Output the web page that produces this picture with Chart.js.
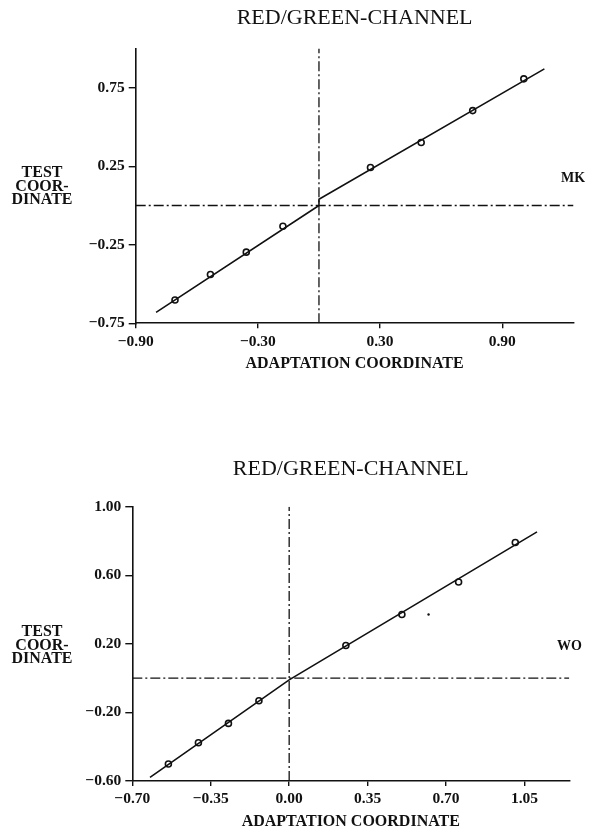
<!DOCTYPE html>
<html>
<head>
<meta charset="utf-8">
<script src="https://cdn.jsdelivr.net/npm/chart.js@4.4.1/dist/chart.umd.min.js"></script>
<style>
    body { margin: 0; background: #fff; }
    #page { position: relative; width: 598px; height: 833px; font-family: "Liberation Serif", "DejaVu Serif", serif; color: #111; }
    .box { position: absolute; left: 0; width: 598px; }
    .side { position: absolute; left: 0; width: 84px; text-align: center; font-size: 16px; font-weight: bold; line-height: 13.5px; }
    .tag { position: absolute; font-size: 14px; font-weight: bold; line-height: 14px; }
</style>
</head>
<body>
<div id="page">
    <div class="box" style="top:0;height:380px"><canvas id="chartMK"></canvas></div>
    <div class="box" style="top:440px;height:393px"><canvas id="chartWO"></canvas></div>
    <div class="side" style="top:165px">TEST<br>COOR-<br>DINATE</div>
    <div class="side" style="top:624px">TEST<br>COOR-<br>DINATE</div>
    <div class="tag" style="left:561px;top:171px">MK</div>
    <div class="tag" style="left:557px;top:639px">WO</div>
</div>
<script>
// Observer MK
const titleText = "RED/GREEN-CHANNEL";
const xTitleText = "ADAPTATION COORDINATE";

const mkAdaptX = [-0.707, -0.533, -0.357, -0.177, 0.253, 0.502, 0.755, 1.006];
const mkTestY = [-0.602, -0.439, -0.297, -0.132, 0.242, 0.401, 0.604, 0.806];
const mkFitX = [-0.80, 0.00, 0.00, 1.107];
const mkFitY = [-0.68, 0.00, 0.04, 0.87];
const mkXRange = [-0.90, 1.25];
const mkYRange = [-0.75, 1.00];
const mkXTicks = [-0.90, -0.30, 0.30, 0.90];
const mkXLabels = ["\u22120.90", "\u22120.30", "0.30", "0.90"];
const mkYTicks = [-0.75, -0.25, 0.25, 0.75];
const mkYLabels = ["\u22120.75", "\u22120.25", "0.25", "0.75"];

// Observer WO
const woAdaptX = [-0.539, -0.405, -0.271, -0.135, 0.253, 0.503, 0.756, 1.009];
const woTestY = [-0.501, -0.377, -0.264, -0.132, 0.190, 0.371, 0.561, 0.791];
const woFitX = [-0.621, 0.00, 1.106];
const woFitY = [-0.579, -0.01, 0.853];
const woSpeckX = [0.622];
const woSpeckY = [0.371];
const woXRange = [-0.70, 1.25];
const woYRange = [-0.60, 1.00];
const woXTicks = [-0.70, -0.35, 0.00, 0.35, 0.70, 1.05];
const woXLabels = ["\u22120.70", "\u22120.35", "0.00", "0.35", "0.70", "1.05"];
const woYTicks = [-0.60, -0.20, 0.20, 0.60, 1.00];
const woYLabels = ["\u22120.60", "\u22120.20", "0.20", "0.60", "1.00"];

const ink = "#111";
const serif = "'Liberation Serif', 'DejaVu Serif', serif";
const toPoints = (xs, ys) => xs.map((x, i) => ({ x: x, y: ys[i] }));

function makeChart(id, s) {
    const datasets = [
        {
            // dash-dot zero lines
            data: [{ x: s.xRange[0], y: 0 }, { x: s.xRange[1], y: 0 }],
            showLine: true,
            borderColor: ink,
            borderWidth: 1.3,
            borderDash: [10, 3, 2, 3],
            pointRadius: 0,
        },
        {
            data: [{ x: 0, y: s.yRange[0] }, { x: 0, y: s.yRange[1] }],
            showLine: true,
            borderColor: ink,
            borderWidth: 1.3,
            borderDash: [10, 3, 2, 3],
            pointRadius: 0,
        },
        {
            data: toPoints(s.fitX, s.fitY),
            showLine: true,
            borderColor: ink,
            borderWidth: 1.6,
            pointRadius: 0,
            tension: 0,
        },
        {
            data: toPoints(s.dataX, s.dataY),
            showLine: false,
            pointRadius: 3,
            pointBorderWidth: 1.6,
            pointBorderColor: ink,
            pointBackgroundColor: "#fff",
        },
    ];
    if (s.speckX) {
        datasets.push({
            data: toPoints(s.speckX, s.speckY),
            showLine: false,
            pointRadius: 1.2,
            pointBorderWidth: 0,
            pointBackgroundColor: ink,
        });
    }

    return new Chart(document.getElementById(id), {
        type: "scatter",
        data: { datasets: datasets },
        options: {
            responsive: true,
            maintainAspectRatio: false,
            animation: false,
            layout: { padding: { left: 0, right: s.padRight, top: 0, bottom: 0 } },
            plugins: {
                legend: { display: false },
                tooltip: { enabled: false },
                title: {
                    display: true,
                    text: titleText,
                    fullSize: false,
                    color: ink,
                    font: { family: serif, size: 22, weight: "normal" },
                    padding: { top: s.titleTop, bottom: s.titleBottom },
                },
            },
            scales: {
                x: {
                    type: "linear",
                    min: s.xRange[0],
                    max: s.xRange[1],
                    afterBuildTicks: (axis) => {
                        axis.ticks = s.xTicks.map((v) => ({ value: v }));
                    },
                    afterFit: (axis) => {
                        axis.height = s.xAxisHeight;
                    },
                    ticks: {
                        color: ink,
                        padding: 4,
                        maxRotation: 0,
                        autoSkip: false,
                        font: { family: serif, size: 15.5, weight: "bold" },
                        callback: (value, index) => s.xLabels[index],
                    },
                    grid: { drawOnChartArea: false, drawTicks: true, tickLength: 5, color: ink, lineWidth: 1.4 },
                    border: { display: true, color: ink, width: 1.6 },
                    title: {
                        display: true,
                        text: xTitleText,
                        color: ink,
                        font: { family: serif, size: 16, weight: "bold" },
                        padding: { top: 0, bottom: s.xTitleBottom },
                    },
                },
                y: {
                    type: "linear",
                    min: s.yRange[0],
                    max: s.yRange[1],
                    afterBuildTicks: (axis) => {
                        axis.ticks = s.yTicks.map((v) => ({ value: v }));
                    },
                    afterFit: (axis) => {
                        axis.width = s.yAxisWidth;
                    },
                    ticks: {
                        color: ink,
                        padding: 4,
                        autoSkip: false,
                        font: { family: serif, size: 15.5, weight: "bold" },
                        callback: (value, index) => s.yLabels[index],
                    },
                    grid: { drawOnChartArea: false, drawTicks: true, tickLength: 7, color: ink, lineWidth: 1.4 },
                    border: { display: true, color: ink, width: 1.6 },
                },
            },
        },
    });
}

document.addEventListener("DOMContentLoaded", function () {
    makeChart("chartMK", {
        dataX: mkAdaptX, dataY: mkTestY, fitX: mkFitX, fitY: mkFitY,
        xRange: mkXRange, yRange: mkYRange,
        xTicks: mkXTicks, xLabels: mkXLabels, yTicks: mkYTicks, yLabels: mkYLabels,
        padRight: 24.5, yAxisWidth: 135.7, xAxisHeight: 56.7,
        titleTop: 4.8, titleBottom: 17.2, xTitleBottom: 7,
    });
    makeChart("chartWO", {
        dataX: woAdaptX, dataY: woTestY, fitX: woFitX, fitY: woFitY,
        speckX: woSpeckX, speckY: woSpeckY,
        xRange: woXRange, yRange: woYRange,
        xTicks: woXTicks, xLabels: woXLabels, yTicks: woYTicks, yLabels: woYLabels,
        padRight: 28.7, yAxisWidth: 132.3, xAxisHeight: 52,
        titleTop: 15.8, titleBottom: 24.5, xTitleBottom: 2,
    });
});
</script>
</body>
</html>
